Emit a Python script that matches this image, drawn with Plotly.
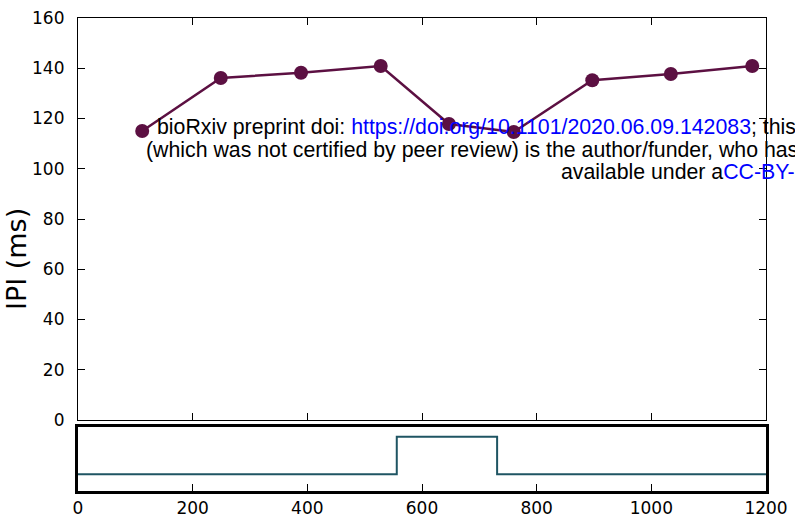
import plotly.graph_objects as go

# Inter-pulse interval over the course of the recording
time_ms = [112, 249, 389, 528, 647, 760, 897, 1034, 1176]
ipi_ms = [115.0, 136.1, 138.2, 140.9, 117.8, 114.6, 135.2, 137.7, 140.9]

# Stimulus trace (off / on)
stim_t = [0, 556, 556, 731, 731, 1200]
stim_v = [0, 0, 1, 1, 0, 0]

x_ticks = [0, 200, 400, 600, 800, 1000, 1200]
y_ticks = [0, 20, 40, 60, 80, 100, 120, 140, 160]

W, H = 795, 524
ML, MR, MT, MB = 78, 29, 18, 33
plot_h = H - MT - MB

def ydom(top_px, bottom_px):
    return [(H - MB - bottom_px) / plot_h, (H - MB - top_px) / plot_h]

fig = go.Figure()

fig.add_trace(go.Scatter(
    x=time_ms, y=ipi_ms, mode="lines+markers",
    line=dict(color="#5c1042", width=2.5),
    marker=dict(color="#5c1042", size=14),
    xaxis="x", yaxis="y", showlegend=False,
))

fig.add_trace(go.Scatter(
    x=stim_t, y=stim_v, mode="lines",
    line=dict(color="#1f5563", width=2),
    xaxis="x2", yaxis="y2", showlegend=False,
))

tick_font = dict(family="DejaVu Sans", size=17, color="black")

fig.update_layout(
    template="none",
    width=W, height=H,
    margin=dict(l=ML, r=MR, t=MT, b=MB, autoexpand=False),
    paper_bgcolor="white", plot_bgcolor="white",
    xaxis=dict(
        range=[0, 1200], domain=[0, 1], anchor="y", automargin=False,
        tickvals=x_ticks, showticklabels=False,
        ticks="inside", ticklen=7, tickcolor="black", tickwidth=1,
        showline=True, linecolor="black", linewidth=1.2, mirror="ticks",
        showgrid=False, zeroline=False,
    ),
    yaxis=dict(
        range=[0, 160], domain=ydom(18, 420), anchor="x", automargin=False,
        tickvals=y_ticks, tickfont=tick_font,
        ticks="inside", ticklen=7, tickcolor="black", tickwidth=1,
        showline=True, linecolor="black", linewidth=1.2, mirror="ticks",
        showgrid=False, zeroline=False, ticklabelstandoff=9,
    ),
    xaxis2=dict(
        range=[0, 1200], domain=[0, 1], anchor="y2", automargin=False,
        tickvals=x_ticks, tickfont=tick_font,
        ticks="inside", ticklen=7, tickcolor="black", tickwidth=1,
        showline=True, linecolor="black", linewidth=2.5, mirror=True,
        showgrid=False, zeroline=False, ticklabelstandoff=0,
    ),
    yaxis2=dict(
        range=[-0.45, 1.26], domain=ydom(427, 491), anchor="x2", automargin=False,
        showticklabels=False, ticks="",
        showline=True, linecolor="black", linewidth=2.5, mirror=True,
        showgrid=False, zeroline=False,
    ),
)

# y-axis title
fig.add_annotation(
    text="IPI (ms)", xref="paper", yref="paper",
    x=-(ML - 16) / (W - ML - MR), y=(H - MB - 259) / plot_h,
    textangle=-90, showarrow=False, xanchor="center", yanchor="middle",
    font=dict(family="DejaVu Sans", size=27, color="black"),
)

# preprint notice overlaid on the figure
wm_font = dict(family="Liberation Sans", size=21.3, color="black")
blue = "<span style='color:#0000ff'>{}</span>"
notice_lines = [
    ("bioRxiv preprint doi: " + blue.format("https://doi.org/10.1101/2020.06.09.142083") + "; this", 155, 127),
    ("(which was not certified by peer review) is the author/funder, who has", 144, 150),
    ("available under a" + blue.format("CC-BY-"), 559, 172),
]
for txt, px, py in notice_lines:
    fig.add_annotation(
        text=txt, xref="paper", yref="paper",
        x=(px - ML) / (W - ML - MR), y=(H - MB - py) / plot_h,
        xanchor="left", yanchor="middle", showarrow=False,
        font=wm_font, align="left",
    )

fig.write_html("out.html")
